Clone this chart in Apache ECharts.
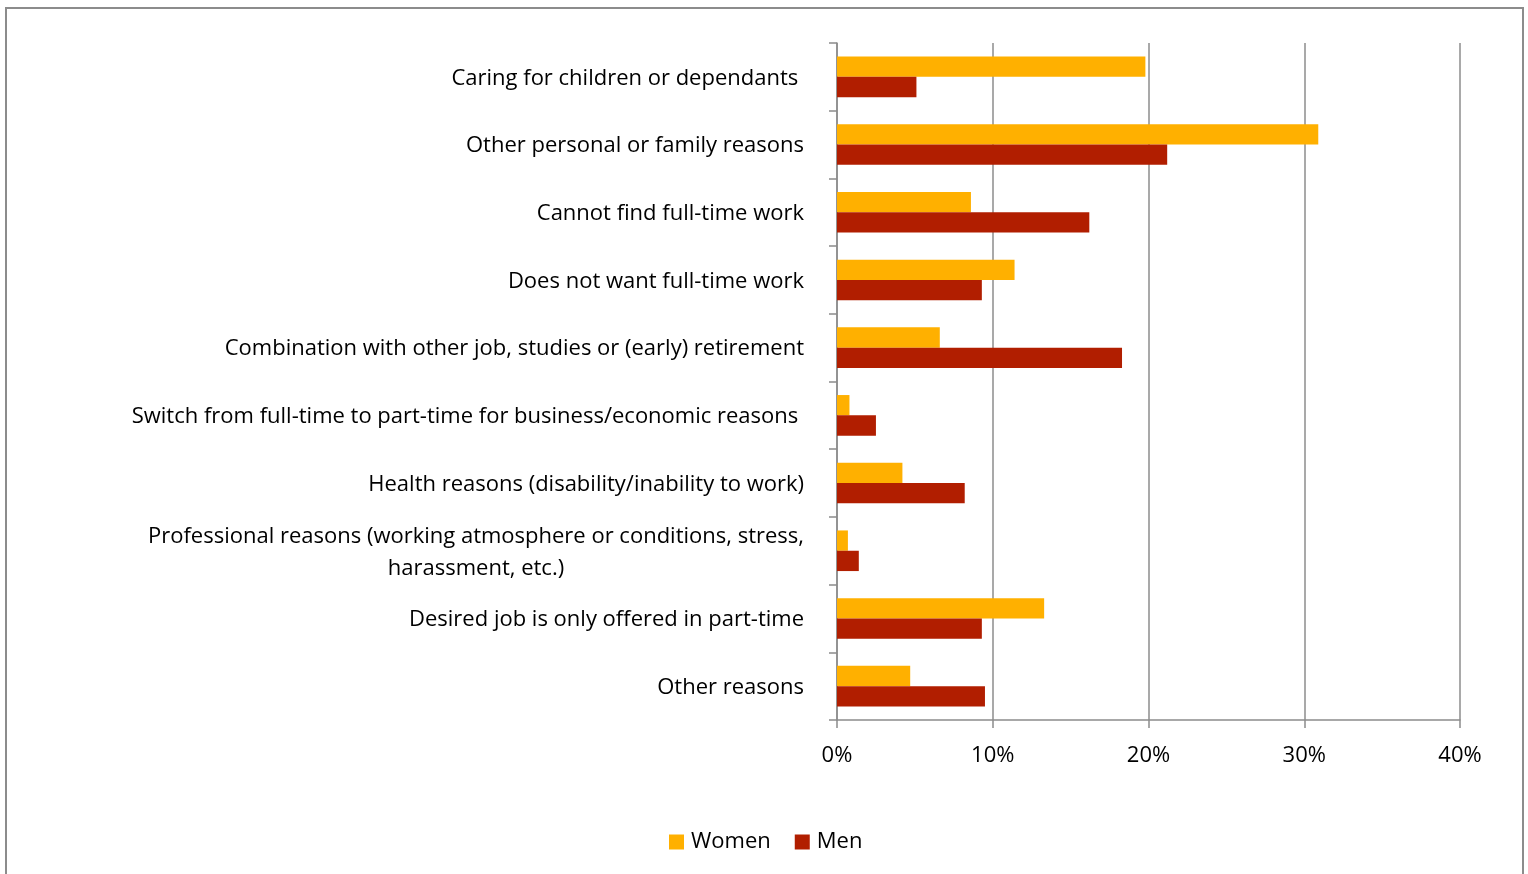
<!DOCTYPE html>
<html>
<head>
<meta charset="utf-8">
<script src="https://cdn.jsdelivr.net/npm/echarts@6/dist/echarts.min.js"></script>
<style>
html,body{margin:0;padding:0;background:#fff;}
#chart{width:1528px;height:874px;}
</style>
</head>
<body>
<div id="chart"></div>
<script>
const categories = [
  "Caring for children or dependants ",
  "Other personal or family reasons",
  "Cannot find full-time work",
  "Does not want full-time work",
  "Combination with other job, studies or (early) retirement",
  "Switch from full-time to part-time for business/economic reasons ",
  "Health reasons (disability/inability to work)",
  "Professional reasons (working atmosphere or conditions, stress,\nharassment, etc.)",
  "Desired job is only offered in part-time",
  "Other reasons"
];
const women = [19.8, 30.9, 8.6, 11.4, 6.6, 0.8, 4.2, 0.7, 13.3, 4.7];
const men   = [5.1, 21.2, 16.2, 9.3, 18.3, 2.5, 8.2, 1.4, 9.3, 9.5];
const xTicks = [0, 10, 20, 30, 40];

const FONT = "Open Sans";
const FS = 22;
const labelColor = "#000";
const gridColor = "#8c8c8c";

function measure(t) {
  const c = document.createElement("canvas").getContext("2d");
  c.font = FS + "px '" + FONT + "'";
  return c.measureText(t).width;
}

const chart = echarts.init(document.getElementById("chart"));
chart.setOption({
  animation: false,
  backgroundColor: "#fff",
  textStyle: { fontFamily: FONT },
  graphic: [{
    type: "rect",
    shape: { x: 6, y: 8, width: 1517, height: 900 },
    style: { fill: "none", stroke: "#8c8c8c", lineWidth: 2 },
    silent: true
  }],
  legend: {
    data: ["Women", "Men"],
    left: 664,
    top: 826,
    itemWidth: 15,
    itemHeight: 15,
    itemGap: 24,
    icon: "rect",
    textStyle: { fontFamily: FONT, fontSize: FS, color: labelColor, padding: [0, 0, 0, 2] }
  },
  grid: { left: 837, right: 68, top: 43, bottom: 154, containLabel: false },
  xAxis: {
    type: "value",
    min: 0, max: 40, interval: 10,
    axisLine: { show: true, lineStyle: { color: gridColor, width: 1.5 } },
    axisTick: { show: true, length: 8, lineStyle: { color: gridColor, width: 1.5 } },
    splitLine: { show: true, lineStyle: { color: gridColor, width: 1.5 } },
    axisLabel: {
      margin: 25,
      fontFamily: FONT, fontSize: FS, color: labelColor,
      formatter: v => xTicks.includes(v) ? v + "%" : ""
    }
  },
  yAxis: {
    type: "category",
    data: categories,
    inverse: true,
    axisLine: { show: true, lineStyle: { color: gridColor, width: 1.5 } },
    axisTick: { show: true, length: 8, lineStyle: { color: gridColor, width: 1.5 } },
    axisLabel: {
      margin: 33,
      fontFamily: FONT, fontSize: FS, color: labelColor, lineHeight: 32,
      padding: [3, 0, 0, 0],
      formatter: function (v) {
        if (v.indexOf("\n") >= 0) {
          const parts = v.split("\n");
          return "{a|" + parts[0] + "}\n{b|" + parts[1] + "}";
        }
        return v;
      },
      rich: {
        a: { fontFamily: FONT, fontSize: FS, color: labelColor, lineHeight: 32 },
        b: { fontFamily: FONT, fontSize: FS, color: labelColor, lineHeight: 32, align: "center", width: measure(categories[7].split("\n")[0]) }
      }
    }
  },
  series: [
    {
      name: "Women", type: "bar", data: women,
      barGap: "0%", barCategoryGap: "40%",
      itemStyle: { color: "#FFB000" }
    },
    {
      name: "Men", type: "bar", data: men,
      barGap: "0%", barCategoryGap: "40%",
      itemStyle: { color: "#B11E00" }
    }
  ]
});
</script>
</body>
</html>
